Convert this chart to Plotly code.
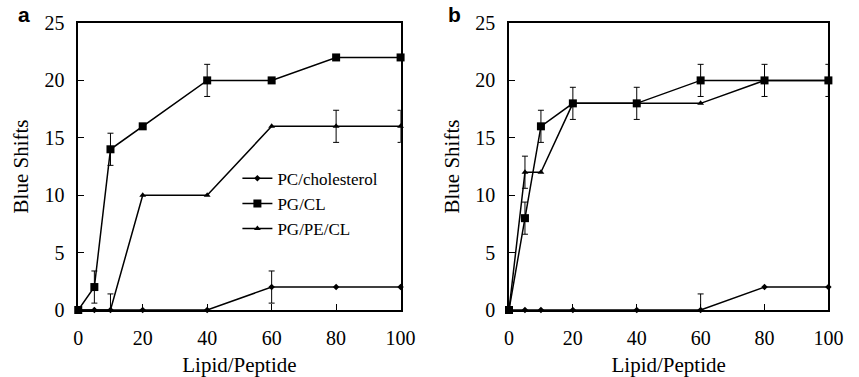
import plotly.graph_objects as go

x_vals = [0, 5, 10, 20, 40, 60, 80, 100]

# Panel a
a_pc = [0, 0, 0, 0, 0, 2, 2, 2]
a_pc_err = [None, None, None, None, None, 1.4, None, None]
a_pgcl = [0, 2, 14, 16, 20, 20, 22, 22]
a_pgcl_err = [None, 1.4, 1.4, None, 1.4, None, None, None]
a_pgpecl = [0, 0, 0, 10, 10, 16, 16, 16]
a_pgpecl_err = [None, None, 1.4, None, None, None, 1.4, 1.4]

# Panel b
b_pc = [0, 0, 0, 0, 0, 0, 2, 2]
b_pc_err = [None, None, None, None, None, 1.4, None, None]
b_pgcl = [0, 8, 16, 18, 18, 20, 20, 20]
b_pgcl_err = [None, 1.4, 1.4, 1.4, 1.4, 1.4, 1.4, 1.4]
b_pgpecl = [0, 12, 12, 18, 18, 18, 20, 20]
b_pgpecl_err = [None, 1.4, None, None, None, None, None, None]

series_names = ["PC/cholesterol", "PG/CL", "PG/PE/CL"]
symbols = ["diamond", "square", "triangle-up"]
sizes = [5, 8, 6]

x_ticks = [0, 20, 40, 60, 80, 100]
y_ticks = [0, 5, 10, 15, 20, 25]

SERIF = "Liberation Serif"

fig = go.Figure()

panels = [
    ("x", "y", [a_pc, a_pgcl, a_pgpecl], [a_pc_err, a_pgcl_err, a_pgpecl_err], True),
    ("x2", "y2", [b_pc, b_pgcl, b_pgpecl], [b_pc_err, b_pgcl_err, b_pgpecl_err], False),
]

for xa, ya, ys, errs, show in panels:
    for name, sym, sz, yv, ev in zip(series_names, symbols, sizes, ys, errs):
        ex = [xv for xv, e in zip(x_vals, ev) if e is not None]
        ey = [yy for yy, e in zip(yv, ev) if e is not None]
        ee = [e for e in ev if e is not None]
        if ex:
            fig.add_trace(go.Scatter(
                x=ex, y=ey, mode="markers", xaxis=xa, yaxis=ya,
                marker=dict(size=1, color="rgba(0,0,0,0)"),
                error_y=dict(type="data", array=ee, visible=True,
                             color="black", thickness=1, width=3),
                showlegend=False, hoverinfo="skip"))
        fig.add_trace(go.Scatter(
            x=x_vals, y=yv, mode="lines+markers", name=name,
            xaxis=xa, yaxis=ya,
            line=dict(color="black", width=1.5),
            marker=dict(symbol=sym, size=sz, color="black"),
            showlegend=show, cliponaxis=False))

axis_common = dict(
    showgrid=False, zeroline=False, showline=True, linecolor="black",
    linewidth=1.5, mirror=True, ticks="inside", ticklen=6, tickwidth=1,
    tickcolor="black", tickfont=dict(family=SERIF, size=20, color="black"),
)
title_font = dict(family=SERIF, size=21, color="black")

fig.update_layout(
    width=859, height=377,
    margin=dict(l=0, r=0, t=23, b=67),
    paper_bgcolor="white", plot_bgcolor="white",
    xaxis=dict(domain=[0.0873, 0.4715], range=[0, 100], tickvals=x_ticks,
               title=dict(text="Lipid/Peptide", font=title_font, standoff=10),
               ticklabelstandoff=9, **axis_common),
    yaxis=dict(domain=[0, 1], range=[0, 25], tickvals=y_ticks,
               title=dict(text="Blue Shifts", font=title_font, standoff=10),
               ticklabelstandoff=8, **axis_common),
    xaxis2=dict(domain=[0.6007, 0.9814], range=[0, 100], tickvals=x_ticks, anchor="y2",
                title=dict(text="Lipid/Peptide", font=title_font, standoff=10),
                ticklabelstandoff=9, **axis_common),
    yaxis2=dict(domain=[0, 1], range=[0, 25], tickvals=y_ticks, anchor="x2",
                title=dict(text="Blue Shifts", font=title_font, standoff=10),
                ticklabelstandoff=8, **axis_common),
    legend=dict(x=0.277, y=0.52, xanchor="left", yanchor="top",
                bgcolor="rgba(0,0,0,0)", font=dict(family=SERIF, size=17, color="black"),
                itemwidth=30, tracegroupgap=0),
    showlegend=True,
)

fig.add_annotation(text="<b>a</b>", x=0.013, y=1.03, xref="paper", yref="paper",
                   xanchor="left", yanchor="middle", showarrow=False,
                   font=dict(family="Liberation Sans", size=21, color="black"))
fig.add_annotation(text="<b>b</b>", x=0.526, y=1.03, xref="paper", yref="paper",
                   xanchor="left", yanchor="middle", showarrow=False,
                   font=dict(family="Liberation Sans", size=21, color="black"))

fig.write_html("out.html")
